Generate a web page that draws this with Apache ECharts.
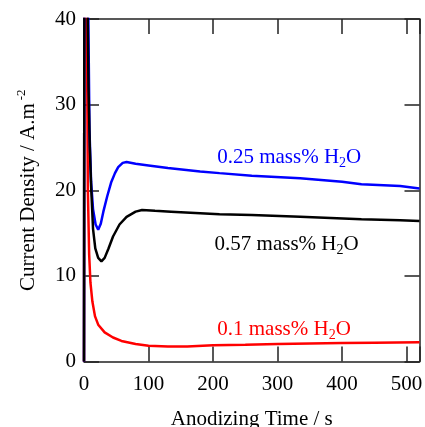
<!DOCTYPE html>
<html>
<head>
<meta charset="utf-8">
<script src="https://cdn.jsdelivr.net/npm/echarts@6/dist/echarts.min.js"></script>
<style>html,body{margin:0;padding:0;background:#fff}#c{width:425px;height:427px}</style>
</head>
<body>
<div id="c"></div>
<script>
var xTicks = [0, 100, 200, 300, 400, 500];
var yTicks = [0, 10, 20, 30, 40];

var red01 = [[0,0],[1,80],[4,45],[6,20],[8,12.5],[10,9.2],[13,7],[17,5.3],[22,4.3],[32,3.4],[45,2.8],[58,2.4],[80,2.05],[100,1.85],[130,1.75],[160,1.75],[200,1.9],[250,1.95],[300,2.05],[350,2.1],[400,2.15],[450,2.2],[520,2.25]];
var blue025 = [[0,0],[1,80],[5,55],[7,38],[8.5,27],[11,21],[14,17.8],[18,16],[22,15.4],[26,16.1],[30,17.5],[36,19.3],[42,20.9],[48,22],[53,22.7],[60,23.2],[66,23.3],[80,23.1],[100,22.9],[130,22.6],[180,22.2],[210,22.0],[260,21.7],[335,21.4],[400,21.0],[430,20.7],[490,20.5],[520,20.2]];
var black057 = [[0,0],[1,80],[5,45],[7,32],[9,25],[11,20.5],[14,15.5],[17.5,13.2],[22,12.1],[27,11.7],[32,12.1],[38,13.2],[45,14.6],[55,16],[66,16.9],[80,17.5],[90,17.7],[110,17.6],[135,17.5],[210,17.2],[260,17.1],[335,16.9],[430,16.6],[490,16.5],[520,16.4]];

var labels = [
  {text: '0.25 mass% H', pos: [318, 23.8], color: '#0000ff'},
  {text: '0.57 mass% H', pos: [314, 13.7], color: '#000000'},
  {text: '0.1 mass% H', pos: [310, 3.7], color: '#ff0000'}
];

var FONT = '"Liberation Serif", "Times New Roman", serif';

function lbl(l) {
  return {
    symbol: 'circle', symbolSize: 1, silent: true,
    itemStyle: {color: 'rgba(0,0,0,0)'},
    data: [{coord: l.pos}],
    label: {
      show: true, position: 'inside',
      formatter: '{a|' + l.text + '}{s|2}{a|O}',
      rich: {
        a: {fontFamily: FONT, fontSize: 21, color: l.color, lineHeight: 26},
        s: {fontFamily: FONT, fontSize: 14, color: l.color, lineHeight: 18, verticalAlign: 'bottom'}
      }
    }
  };
}

function series(name, data, color, l) {
  return {
    name: name, type: 'line', data: data, showSymbol: false, symbol: 'none',
    lineStyle: {color: color, width: 2.5}, clip: true, silent: true,
    markPoint: lbl(l)
  };
}

var axisLine = {show: true, onZero: false, lineStyle: {color: '#222', width: 1.5}};
var axisTick = {show: true, inside: true, length: 15, lineStyle: {color: '#222', width: 1.5}};

var chart = echarts.init(document.getElementById('c'));
chart.setOption({
  animation: false,
  backgroundColor: '#fff',
  grid: {left: 84, top: 19, right: 5.5, bottom: 65.5, containLabel: false, outerBoundsMode: 'none'},
  xAxis: [{
    type: 'value', min: 0, max: 520, interval: 100, position: 'bottom',
    axisLine: axisLine, axisTick: axisTick, splitLine: {show: false},
    axisLabel: {fontFamily: FONT, fontSize: 21, color: '#000', margin: 12,
      formatter: function(v){ return xTicks.indexOf(v) >= 0 ? String(v) : ''; }},
    name: 'Anodizing Time / s', nameLocation: 'middle', nameGap: 47,
    nameTextStyle: {fontFamily: FONT, fontSize: 21, color: '#000'}
  }, {
    type: 'value', min: 0, max: 520, interval: 100, position: 'top',
    axisLine: axisLine, axisTick: axisTick, splitLine: {show: false}, axisLabel: {show: false}
  }],
  yAxis: [{
    type: 'value', min: 0, max: 40, interval: 10, position: 'left',
    axisLine: axisLine, axisTick: axisTick, splitLine: {show: false},
    axisLabel: {fontFamily: FONT, fontSize: 21, color: '#000', margin: 8,
      formatter: function(v){ return yTicks.indexOf(v) >= 0 ? String(v) : ''; }},
    name: '{a|Current Density / A.m}{p|-2}', nameLocation: 'middle', nameGap: 43,
    nameTextStyle: {
      padding: [0, 0, 0, 0],
      rich: {
        a: {fontFamily: FONT, fontSize: 21, color: '#000', lineHeight: 26},
        p: {fontFamily: FONT, fontSize: 13, color: '#000', lineHeight: 18, verticalAlign: 'top', padding: [0,0,0,3]}
      }
    }
  }, {
    type: 'value', min: 0, max: 40, interval: 10, position: 'right',
    axisLine: axisLine, axisTick: axisTick, splitLine: {show: false}, axisLabel: {show: false}
  }],
  series: [
    series('0.1', red01, '#ff0000', labels[2]),
    series('0.25', blue025, '#0000ff', labels[0]),
    series('0.57', black057, '#000000', labels[1])
  ]
});
</script>
</body>
</html>
